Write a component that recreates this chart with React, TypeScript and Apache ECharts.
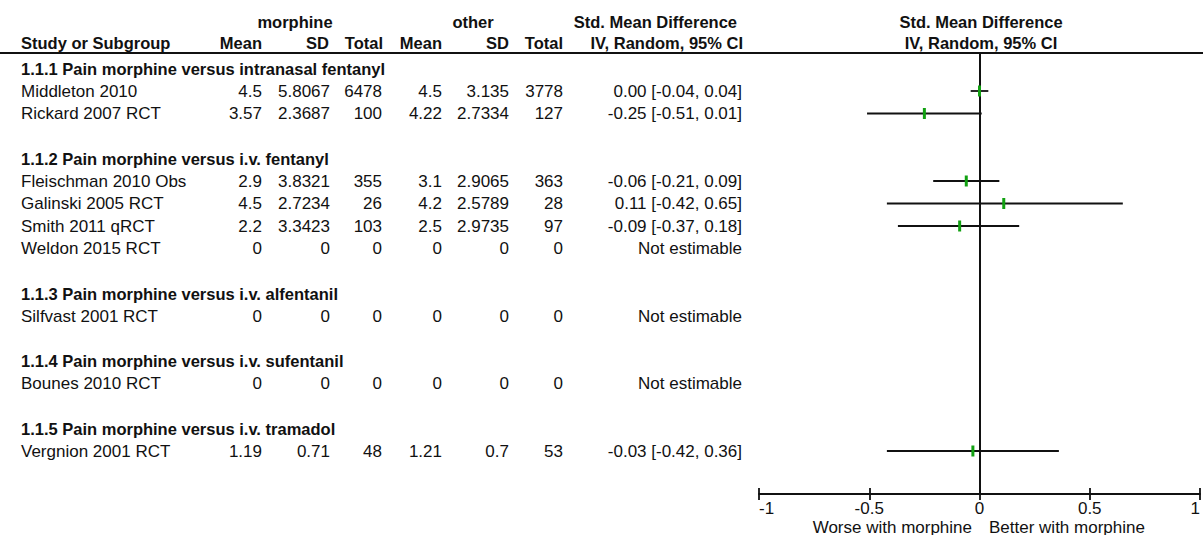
import React, { useEffect, useRef } from "react";
import * as echarts from "echarts";

// ---------- data ----------
const subgroups = [
  "1.1.1 Pain morphine versus intranasal fentanyl",
  "1.1.2 Pain morphine versus i.v. fentanyl",
  "1.1.3 Pain morphine versus i.v. alfentanil",
  "1.1.4 Pain morphine versus i.v. sufentanil",
  "1.1.5 Pain morphine versus i.v. tramadol",
];
const studyNames = [
  "Middleton 2010",
  "Rickard 2007 RCT",
  "Fleischman 2010 Obs",
  "Galinski 2005 RCT",
  "Smith 2011 qRCT",
  "Weldon 2015 RCT",
  "Silfvast 2001 RCT",
  "Bounes 2010 RCT",
  "Vergnion 2001 RCT",
];
const studyGroup = [0, 0, 1, 1, 1, 1, 2, 3, 4];
const morphMean = [4.5, 3.57, 2.9, 4.5, 2.2, 0, 0, 0, 1.19];
const morphSD = [5.8067, 2.3687, 3.8321, 2.7234, 3.3423, 0, 0, 0, 0.71];
const morphTotal = [6478, 100, 355, 26, 103, 0, 0, 0, 48];
const otherMean = [4.5, 4.22, 3.1, 4.2, 2.5, 0, 0, 0, 1.21];
const otherSD = [3.135, 2.7334, 2.9065, 2.5789, 2.9735, 0, 0, 0, 0.7];
const otherTotal = [3778, 127, 363, 28, 97, 0, 0, 0, 53];
const smd: (number | null)[] = [0.0, -0.25, -0.06, 0.11, -0.09, null, null, null, -0.03];
const ciLow: (number | null)[] = [-0.04, -0.51, -0.21, -0.42, -0.37, null, null, null, -0.42];
const ciHigh: (number | null)[] = [0.04, 0.01, 0.09, 0.65, 0.18, null, null, null, 0.36];
const xTicks = [-1, -0.5, 0, 0.5, 1];

// ---------- layout / style ----------
const FONT = '"Liberation Sans", Arial, sans-serif';
const TXT = "#111";
const GREEN = "#12a112";
const ROW0 = 68.5;
const ROWH = 22.5;
const GRID_TOP = 54;
const AXIS_Y = 494;
const PLOT_L = 759;
const PLOT_W = 444;

export default function App() {
  const ref = useRef<HTMLDivElement>(null);

  useEffect(() => {
    const chart = echarts.init(ref.current!, null, { renderer: "svg" });

    type Row = { kind: "group" | "study" | "blank"; idx: number };
    const rows: Row[] = [];
    subgroups.forEach((_, g) => {
      if (g > 0) rows.push({ kind: "blank", idx: -1 });
      rows.push({ kind: "group", idx: g });
      studyNames.forEach((_, s) => {
        if (studyGroup[s] === g) rows.push({ kind: "study", idx: s });
      });
    });

    const rowY = (k: number) => ROW0 + ROWH * k;

    const txt = (
      text: string,
      x: number,
      y: number,
      align: "left" | "right" | "center",
      bold = false,
      size?: number
    ) => ({
      type: "text",
      silent: true,
      style: {
        text,
        x,
        y,
        align,
        verticalAlign: "middle",
        fontFamily: FONT,
        fontSize: size ?? (bold ? 16.5 : 17),
        fontWeight: bold ? "bold" : "normal",
        fill: TXT,
      },
    });

    const fmt = (v: number) => (v < 0 ? "-" : "") + Math.abs(v).toFixed(2);

    const graphics: any[] = [];
    graphics.push(txt("morphine", 295, 22, "center", true));
    graphics.push(txt("other", 473, 22, "center", true));
    graphics.push(txt("Std. Mean Difference", 737, 22, "right", true));
    graphics.push(txt("Std. Mean Difference", 981, 22, "center", true));
    graphics.push(txt("Study or Subgroup", 21, 43, "left", true));
    graphics.push(txt("Mean", 262, 43, "right", true));
    graphics.push(txt("SD", 329, 43, "right", true));
    graphics.push(txt("Total", 383, 43, "right", true));
    graphics.push(txt("Mean", 442, 43, "right", true));
    graphics.push(txt("SD", 509, 43, "right", true));
    graphics.push(txt("Total", 563, 43, "right", true));
    graphics.push(txt("IV, Random, 95% CI", 743, 43, "right", true));
    graphics.push(txt("IV, Random, 95% CI", 981, 43, "center", true));
    graphics.push({
      type: "line",
      silent: true,
      shape: { x1: 0, y1: 53, x2: 1203, y2: 53 },
      style: { stroke: TXT, lineWidth: 2 },
    });

    rows.forEach((r, k) => {
      const y = rowY(k);
      if (r.kind === "group") {
        graphics.push(txt(subgroups[r.idx], 21, y, "left", true));
      } else if (r.kind === "study") {
        const s = r.idx;
        graphics.push(txt(studyNames[s], 21, y, "left"));
        graphics.push(txt(String(morphMean[s]), 262, y, "right"));
        graphics.push(txt(String(morphSD[s]), 330, y, "right"));
        graphics.push(txt(String(morphTotal[s]), 382, y, "right"));
        graphics.push(txt(String(otherMean[s]), 442, y, "right"));
        graphics.push(txt(String(otherSD[s]), 509, y, "right"));
        graphics.push(txt(String(otherTotal[s]), 563, y, "right"));
        const e = smd[s];
        const ci =
          e === null
            ? "Not estimable"
            : `${fmt(e)} [${fmt(ciLow[s] as number)}, ${fmt(ciHigh[s] as number)}]`;
        graphics.push(txt(ci, 742, y, "right"));
      }
    });

    graphics.push(txt("Worse with morphine", 972, 527, "right", false, 17));
    graphics.push(txt("Better with morphine", 989, 527, "left", false, 17));

    const forestData: number[][] = [];
    rows.forEach((r, k) => {
      if (r.kind === "study" && smd[r.idx] !== null) {
        forestData.push([k, smd[r.idx] as number, ciLow[r.idx] as number, ciHigh[r.idx] as number]);
      }
    });

    const yMin = -(ROW0 - GRID_TOP) / ROWH;
    const yMax = (AXIS_Y - ROW0) / ROWH;

    const axisCommon = {
      type: "value",
      min: xTicks[0],
      max: xTicks[xTicks.length - 1],
      interval: xTicks[1] - xTicks[0],
      position: "bottom",
      splitLine: { show: false },
    };

    chart.setOption({
      animation: false,
      backgroundColor: "#fff",
      grid: {
        left: PLOT_L,
        width: PLOT_W,
        top: GRID_TOP,
        height: AXIS_Y - GRID_TOP,
        containLabel: false,
      },
      xAxis: [
        {
          ...axisCommon,
          axisLine: { show: true, onZero: false, lineStyle: { color: TXT, width: 1.8 } },
          axisTick: { show: true, length: 6, lineStyle: { color: TXT, width: 1.8 } },
          axisLabel: {
            show: true,
            color: TXT,
            fontSize: 17,
            fontFamily: FONT,
            margin: 6,
            alignMinLabel: "left",
            alignMaxLabel: "right",
          },
        },
        {
          ...axisCommon,
          axisLine: { show: false, onZero: false },
          axisTick: { show: true, inside: true, length: 6, lineStyle: { color: TXT, width: 1.8 } },
          axisLabel: { show: false },
        },
      ],
      yAxis: {
        type: "value",
        inverse: true,
        min: yMin,
        max: yMax,
        axisLine: { show: true, onZero: true, lineStyle: { color: TXT, width: 2 } },
        axisTick: { show: false },
        axisLabel: { show: false },
        splitLine: { show: false },
      },
      series: [
        {
          type: "custom",
          xAxisIndex: 0,
          yAxisIndex: 0,
          encode: { x: [1, 2, 3], y: 0 },
          data: forestData,
          renderItem: (params: any, api: any) => {
            const row = api.value(0);
            const est = api.value(1);
            const lo = api.value(2);
            const hi = api.value(3);
            const pLo = api.coord([lo, row]);
            const pHi = api.coord([hi, row]);
            const pE = api.coord([est, row]);
            return {
              type: "group",
              children: [
                {
                  type: "line",
                  shape: { x1: pLo[0], y1: pLo[1], x2: pHi[0], y2: pHi[1] },
                  style: { stroke: TXT, lineWidth: 1.8 },
                },
                {
                  type: "rect",
                  shape: { x: pE[0] - 1.5, y: pE[1] - 5.5, width: 3, height: 11 },
                  style: { fill: GREEN },
                },
              ],
            };
          },
        },
      ],
      graphic: graphics,
    });

    return () => chart.dispose();
  }, []);

  return (
    <div
      ref={ref}
      style={{ position: "fixed", left: 0, top: 0, width: 1203, height: 535, background: "#fff" }}
    />
  );
}
